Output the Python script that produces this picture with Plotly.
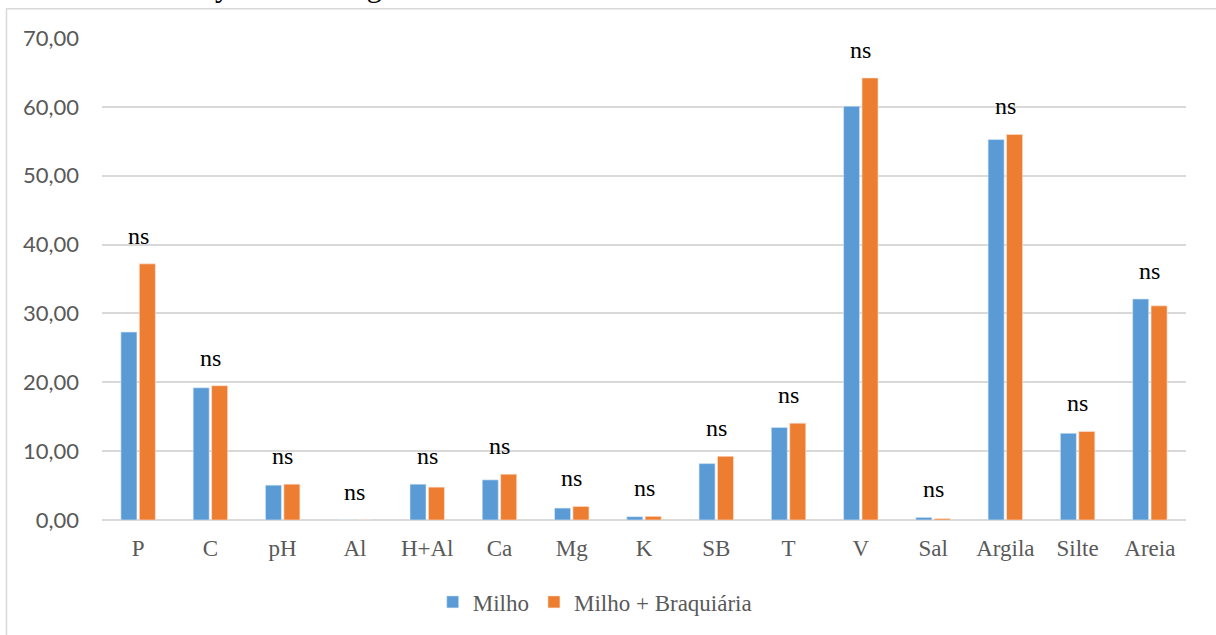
import plotly.graph_objects as go

# Soil attributes and mean values under each cropping system
categories = ["P", "C", "pH", "Al", "H+Al", "Ca", "Mg", "K", "SB", "T", "V", "Sal", "Argila", "Silte", "Areia"]
milho = [27.3, 19.2, 5.06, 0.0, 5.2, 5.83, 1.73, 0.48, 8.19, 13.44, 60.1, 0.38, 55.25, 12.6, 32.1]
milho_braq = [37.2, 19.5, 5.2, 0.0, 4.77, 6.65, 1.97, 0.53, 9.25, 14.06, 64.2, 0.2, 56.0, 12.86, 31.1]
sig_labels = ["ns"] * len(categories)
y_ticks = [0, 10, 20, 30, 40, 50, 60, 70]
y_tick_text = ["0,00", "10,00", "20,00", "30,00", "40,00", "50,00", "60,00", "70,00"]
caption = "de Mann-Whitney a 5% de significância."

BLUE = "#5B9BD5"
ORANGE = "#ED7D31"
GRID = "#D9D9D9"
SERIF = "Liberation Serif"

fig = go.Figure()
fig.add_trace(go.Bar(
    x=categories, y=milho, name="Milho",
    marker=dict(color=BLUE, line=dict(color="#DDEBF7", width=0.6)),
))
fig.add_trace(go.Bar(
    x=categories, y=milho_braq, name="Milho + Braquiária",
    marker=dict(color=ORANGE, line=dict(color="#FBE5D6", width=0.6)),
))

# significance marks above each pair of bars
for cat, a, b, lab in zip(categories, milho, milho_braq, sig_labels):
    fig.add_annotation(
        x=cat, y=max(a, b), text=lab, showarrow=False,
        xref="x", yref="y", yanchor="bottom", yshift=13,
        font=dict(family=SERIF, size=24, color="#000000"),
    )

# caption line from the surrounding text, mostly above the page edge
fig.add_annotation(
    x=-0.092, y=1.069, xref="paper", yref="paper", xanchor="left", yanchor="bottom",
    text=caption, showarrow=False,
    font=dict(family=SERIF, size=31, color="#000000"),
)

# chart-area frame
fig.add_shape(
    type="rect", xref="paper", yref="paper",
    x0=-0.0881, y0=-0.25, x1=1.1, y1=1.0608,
    line=dict(color=GRID, width=1.5), fillcolor="rgba(0,0,0,0)", layer="below",
)

fig.update_layout(
    width=1216, height=635,
    margin=dict(l=102, r=30, t=38, b=112),
    paper_bgcolor="white", plot_bgcolor="white",
    barmode="group", bargap=0.49, bargroupgap=0.13,
    showlegend=True,
    legend=dict(
        orientation="h", x=0.455, xanchor="center", y=-0.17, yanchor="middle",
        font=dict(family=SERIF, size=23, color="#595959"),
        itemwidth=30, tracegroupgap=0,
    ),
    xaxis=dict(
        showgrid=False, showline=False, zeroline=False,
        tickfont=dict(family=SERIF, size=23, color="#595959"),
        ticks="", ticklabelstandoff=12,
    ),
    yaxis=dict(
        range=[0, 70], tickvals=y_ticks, ticktext=y_tick_text,
        showgrid=True, gridcolor=GRID, gridwidth=1.5,
        zeroline=True, zerolinecolor=GRID, zerolinewidth=1.5,
        showline=False, ticks="", ticklabelstandoff=22,
        tickfont=dict(family="Lato", size=22, color="#595959"),
    ),
)

fig.write_html("out.html")
